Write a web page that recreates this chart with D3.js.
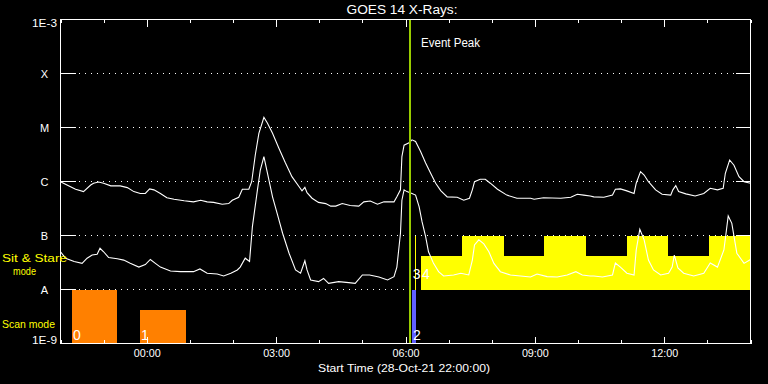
<!DOCTYPE html>
<html>
<head>
<meta charset="utf-8">
<script src="https://cdn.jsdelivr.net/npm/d3@7"></script>
<style>
  body { margin: 0; background: #000; }
  svg { display: block; background: #000; }
  text { font-family: "Liberation Sans", Arial, sans-serif; fill: #fff; }
</style>
</head>
<body>
<div id="chart"></div>
<script>
/* Data */
// start of the plot window, times below are minutes after it
const startTime = new Date(Date.UTC(2021, 9, 28, 22, 0, 0));
const spanMinutes = 960;
const eventPeakMin = 486;

// GOES long channel (1-8 A)
const longMin = [0, 9, 21, 32, 42, 46, 53, 60, 70, 83, 93, 102, 111, 118, 124, 130, 139, 148, 158, 172,
  185, 195, 204, 213, 225, 234, 239, 248, 253, 262, 266, 271, 276, 283, 288, 295, 304, 313, 322, 332,
  336, 340, 343, 350, 359, 369, 376, 383, 392, 403, 415, 422, 431, 441, 450, 464, 468, 473, 475, 478,
  485, 489, 494, 501, 508, 515, 522, 529, 538, 552, 561, 569, 573, 576, 584, 591, 598, 608, 621, 635,
  654, 659, 672, 696, 710, 719, 728, 737, 742, 756, 768, 772, 779, 788, 798, 801, 807, 812, 818, 828,
  837, 849, 852, 856, 860, 870, 883, 895, 904, 914, 922, 925, 931, 937, 944, 951, 960];
const longFlux = [9.9e-7, 8.6e-7, 7.2e-7, 6.5e-7, 8.6e-7, 9.3e-7, 9.8e-7, 9.3e-7, 8.3e-7, 8.3e-7,
  7.7e-7, 6.5e-7, 6.0e-7, 6.0e-7, 7.3e-7, 7.0e-7, 6.0e-7, 5.0e-7, 4.7e-7, 4.4e-7,
  4.2e-7, 4.5e-7, 4.2e-7, 4.1e-7, 3.8e-7, 3.9e-7, 4.5e-7, 5.1e-7, 7.2e-7, 7.2e-7,
  9.9e-7, 3.1e-6, 7.8e-6, 1.55e-5, 1.2e-5, 7.8e-6, 4.1e-6, 2.2e-6, 1.23e-6, 8.0e-7,
  6.7e-7, 7.8e-7, 6.2e-7, 4.9e-7, 4.1e-7, 3.9e-7, 3.5e-7, 3.5e-7, 3.9e-7, 3.6e-7,
  3.5e-7, 4.2e-7, 4.35e-7, 3.8e-7, 4.2e-7, 4.2e-7, 5.2e-7, 7.0e-7, 2.9e-6, 4.7e-6,
  5.2e-6, 5.9e-6, 5.5e-6, 3.6e-6, 2.2e-6, 1.42e-6, 9.3e-7, 6.8e-7, 5.2e-7, 5.1e-7,
  4.5e-7, 4.9e-7, 7.0e-7, 9.9e-7, 1.1e-6, 1.1e-6, 9.3e-7, 7.2e-7, 5.6e-7, 4.9e-7,
  4.9e-7, 4.7e-7, 5.0e-7, 4.9e-7, 5.1e-7, 5.8e-7, 5.6e-7, 5.4e-7, 5.2e-7, 5.1e-7,
  5.6e-7, 7.2e-7, 7.3e-7, 6.7e-7, 6.0e-7, 9.3e-7, 1.52e-6, 1.32e-6, 9.9e-7, 7.0e-7,
  5.8e-7, 5.6e-7, 7.0e-7, 8.4e-7, 6.5e-7, 5.9e-7, 5.4e-7, 6.0e-7, 7.5e-7, 7.0e-7,
  7.5e-7, 1.42e-6, 2.5e-6, 2.0e-6, 1.23e-6, 9.9e-7, 9.3e-7];

// GOES short channel (0.5-4 A)
const shortMin = [0, 7, 19, 30, 37, 44, 51, 55, 60, 67, 79, 88, 97, 109, 118, 125, 132, 139, 153, 167,
  185, 194, 204, 218, 227, 237, 246, 250, 257, 263, 267, 274, 278, 283, 288, 295, 302, 309, 318, 327,
  334, 340, 343, 348, 359, 366, 373, 387, 401, 410, 420, 430, 443, 455, 464, 468, 473, 475, 478, 482,
  489, 494, 499, 503, 508, 512, 519, 526, 533, 547, 557, 568, 573, 576, 582, 589, 596, 603, 612, 626,
  640, 654, 663, 677, 691, 705, 717, 726, 737, 742, 754, 768, 772, 779, 788, 798, 801, 806, 812, 818,
  825, 835, 846, 851, 854, 859, 867, 881, 895, 904, 914, 923, 929, 934, 941, 951, 960];
const shortFlux = [5.0e-8, 3.8e-8, 3.3e-8, 3.05e-8, 3.8e-8, 4.35e-8, 4.5e-8, 5.8e-8, 5.0e-8, 3.9e-8,
  3.7e-8, 3.5e-8, 3.05e-8, 2.6e-8, 2.9e-8, 3.6e-8, 3.05e-8, 2.6e-8, 2.2e-8, 2.14e-8,
  2.14e-8, 2.4e-8, 2.0e-8, 1.94e-8, 1.78e-8, 2.0e-8, 2.3e-8, 2.6e-8, 3.8e-8, 3.3e-8,
  1.46e-7, 7.0e-7, 1.63e-6, 2.9e-6, 1.42e-6, 5.2e-7, 2.4e-7, 1.1e-7, 4.7e-8, 2.3e-8,
  2.0e-8, 3.4e-8, 2.3e-8, 1.5e-8, 1.4e-8, 1.6e-8, 1.3e-8, 1.4e-8, 1.34e-8, 1.3e-8,
  1.86e-8, 1.86e-8, 1.7e-8, 1.5e-8, 1.73e-8, 2.6e-8, 1.1e-7, 4.5e-7, 7.0e-7, 6.5e-7,
  6.0e-7, 5.6e-7, 3.4e-7, 1.8e-7, 9.5e-8, 5.0e-8, 3.05e-8, 2.14e-8, 1.78e-8, 1.86e-8,
  2.0e-8, 1.86e-8, 3.5e-8, 6.7e-8, 8.3e-8, 7.0e-8, 5.0e-8, 3.05e-8, 2.14e-8, 1.86e-8,
  1.78e-8, 1.7e-8, 1.94e-8, 1.73e-8, 1.7e-8, 1.86e-8, 2.14e-8, 1.86e-8, 1.78e-8, 1.78e-8,
  1.7e-8, 1.86e-8, 3.1e-8, 2.6e-8, 2.0e-8, 1.86e-8, 5.4e-8, 1.3e-7, 8.3e-8, 3.5e-8,
  2.3e-8, 1.86e-8, 2.0e-8, 2.6e-8, 4.35e-8, 2.5e-8, 2.0e-8, 1.78e-8, 2.0e-8, 3.1e-8,
  2.6e-8, 5.4e-8, 2.3e-7, 1.68e-7, 4.7e-8, 3.05e-8, 3.6e-8];

// observations (scan / sit & stare), minutes after start
const obsStart = [16, 110.6, 489, 493.2, 501.6, 558.6, 617, 672.7, 731.1, 788.2, 845.2, 902.3];
const obsEnd = [78.2, 174.2, 494.6, 494.6, 558.6, 617, 672.7, 731.1, 788.2, 845.2, 902.3, 960];
const obsMode = ["scan", "scan", "scan", "sit", "sit", "sit", "sit", "sit", "sit", "sit", "sit", "sit"];
const obsLevel = [1, 0.62, 1, 1, 0.62, 1, 0.62, 1, 0.62, 1, 0.62, 1];
const obsFlare = [false, false, true, false, false, false, false, false, false, false, false, false];
const obsLabel = ["0", "1", "2", "3", "4", "", "", "", "", "", "", ""];

// y axis levels
const levelValues = [1e-3, 1e-4, 1e-5, 1e-6, 1e-7, 1e-8, 1e-9];
const levelNames = ["1E-3", "X", "M", "C", "B", "A", "1E-9"];

/* Dimensions */
const width = 768;
const height = 384;
const margin = { top: 19.5, right: 17.5, bottom: 40.5, left: 60.5 };

const toDate = (m) => new Date(startTime.getTime() + m * 60000);

/* Scales */
const x = d3.scaleUtc()
  .domain([startTime, toDate(spanMinutes)])
  .range([margin.left, width - margin.right]);

const y = d3.scaleLog()
  .domain([1e-9, 1e-3])
  .range([height - margin.bottom, margin.top]);

// bands for the observation bars
const bandScale = {
  scan: d3.scaleLinear().domain([0, 1]).range([y(1e-9), y(1e-8)]),
  sit: d3.scaleLinear().domain([0, 1]).range([y(1e-8), y(1e-7)])
};
const obsColor = (i) => obsMode[i] === "sit" ? "#ffff00" : (obsFlare[i] ? "#6060ff" : "#ff8000");

/* SVG container */
const svg = d3
  .select("#chart")
  .append("svg")
  .attr("width", width)
  .attr("height", height);

svg.append("clipPath")
  .attr("id", "plotClip")
  .append("rect")
  .attr("x", margin.left)
  .attr("y", margin.top)
  .attr("width", x.range()[1] - x.range()[0])
  .attr("height", y.range()[0] - y.range()[1]);

// Gridlines: solid stubs at both sides, dotted between
const gridLevels = levelValues.slice(1, -1);
const grid = svg.append("g").attr("stroke", "#fff").attr("shape-rendering", "crispEdges");
grid.selectAll(".stubL")
  .data(gridLevels)
  .enter()
  .append("line")
  .attr("x1", margin.left).attr("x2", margin.left + 15)
  .attr("y1", (d) => y(d)).attr("y2", (d) => y(d));
grid.selectAll(".stubR")
  .data(gridLevels)
  .enter()
  .append("line")
  .attr("x1", x.range()[1] - 14.5).attr("x2", x.range()[1])
  .attr("y1", (d) => y(d)).attr("y2", (d) => y(d));
grid.selectAll(".dots")
  .data(gridLevels)
  .enter()
  .append("line")
  .attr("x1", 79).attr("x2", x.range()[1] - 15)
  .attr("y1", (d) => y(d)).attr("y2", (d) => y(d))
  .attr("stroke-dasharray", "1,5");

// Observation bars
const obs = d3.range(obsStart.length);
svg.append("g")
  .attr("shape-rendering", "crispEdges")
  .selectAll(".bar")
  .data(obs)
  .enter()
  .append("rect")
  .attr("class", "bar")
  .attr("x", (i) => x(toDate(obsStart[i])))
  .attr("width", (i) => x(toDate(obsEnd[i])) - x(toDate(obsStart[i])))
  .attr("y", (i) => bandScale[obsMode[i]](obsLevel[i]))
  .attr("height", (i) => bandScale[obsMode[i]](0) - bandScale[obsMode[i]](obsLevel[i]))
  .attr("fill", (i) => obsColor(i));

// Bar numbers; when the next bar follows right away, end the number at its start
const labelled = obs.filter((i) => obsLabel[i] !== "");
const nextStartX = (i) => {
  const next = labelled.find((j) => j > i && obsMode[j] === obsMode[i]);
  return next === undefined ? Infinity : x(toDate(obsStart[next]));
};
const crowded = (i) => nextStartX(i) - x(toDate(obsStart[i])) < 9;
svg.append("g")
  .selectAll(".barLabel")
  .data(labelled)
  .enter()
  .append("text")
  .attr("x", (i) => crowded(i) ? nextStartX(i) - 0.5 : x(toDate(obsStart[i])) + 1)
  .attr("text-anchor", (i) => crowded(i) ? "end" : "start")
  .attr("y", (i) => bandScale[obsMode[i]](0) - (obsMode[i] === "sit" ? 11 : 4))
  .style("font-size", "14px")
  .text((i) => obsLabel[i]);

// X-ray curves
const line = d3.line()
  .x((d) => x(toDate(d[0])))
  .y((d) => y(d[1]));

const curves = svg.append("g").attr("clip-path", "url(#plotClip)");
[[longMin, longFlux], [shortMin, shortFlux]].forEach(([t, f]) => {
  curves.append("path")
    .datum(t.map((m, i) => [m, f[i]]))
    .attr("fill", "none")
    .attr("stroke", "#fff")
    .attr("stroke-width", 1.1)
    .attr("d", line);
});

// Event peak marker
const peakX = Math.round(x(toDate(eventPeakMin)));
svg.append("line")
  .attr("x1", peakX).attr("x2", peakX)
  .attr("y1", y.range()[1]).attr("y2", y.range()[0])
  .attr("stroke", "#99cc00")
  .attr("stroke-width", 2);

svg.append("text")
  .attr("x", peakX + 11)
  .attr("y", 47)
  .attr("textLength", 59)
  .attr("lengthAdjust", "spacingAndGlyphs")
  .style("font-size", "12px")
  .text("Event Peak");

// Frame
svg.append("rect")
  .attr("x", x.range()[0])
  .attr("y", y.range()[1])
  .attr("width", x.range()[1] - x.range()[0])
  .attr("height", y.range()[0] - y.range()[1])
  .attr("fill", "none")
  .attr("stroke", "#fff")
  .attr("shape-rendering", "crispEdges");

/* Axes */
const tickAxes = [
  [d3.axisBottom, y.range()[1]],
  [d3.axisTop, y.range()[0]]
];
tickAxes.forEach(([axisFn, yPos]) => {
  [[d3.utcHour.every(1), 3.5], [d3.utcHour.every(3), 7]].forEach(([every, size]) => {
    const g = svg.append("g")
      .attr("transform", `translate(0,${yPos})`)
      .attr("shape-rendering", "crispEdges")
      .call(axisFn(x).ticks(every).tickSize(size).tickSizeOuter(0).tickFormat(""));
    g.select(".domain").remove();
    g.selectAll("line").attr("stroke", "#fff");
  });
});

// X tick labels
const xLabels = svg.append("g")
  .attr("transform", `translate(0,${y.range()[0]})`)
  .call(d3.axisBottom(x).ticks(d3.utcHour.every(3)).tickSize(0).tickPadding(6)
    .tickFormat(d3.utcFormat("%H:%M")));
xLabels.select(".domain").remove();
xLabels.selectAll("text")
  .attr("fill", "#fff")
  .attr("textLength", 27)
  .attr("lengthAdjust", "spacingAndGlyphs")
  .style("font-family", "'Liberation Sans', Arial, sans-serif")
  .style("font-size", "11px");

// X-label
svg.append("text")
  .attr("x", 404)
  .attr("y", 372)
  .attr("text-anchor", "middle")
  .attr("textLength", 172)
  .attr("lengthAdjust", "spacingAndGlyphs")
  .style("font-size", "11px")
  .text("Start Time (28-Oct-21 22:00:00)");

// Y tick labels
const yLabels = svg.append("g")
  .attr("transform", `translate(${margin.left},0)`)
  .call(d3.axisLeft(y).tickValues(levelValues).tickSize(0)
    .tickFormat((d, i) => levelNames[i]));
yLabels.select(".domain").remove();
yLabels.selectAll("text")
  .attr("fill", "#fff")
  .attr("x", -16)
  .attr("text-anchor", "middle")
  .attr("dy", (d, i) => i === 0 ? "0.66em" : (i === levelValues.length - 1 ? "0em" : "0.34em"))
  .style("font-family", "'Liberation Sans', Arial, sans-serif")
  .style("font-size", "11px");
yLabels.selectAll("text")
  .filter((d, i) => levelNames[i].length > 1)
  .attr("textLength", 25)
  .attr("lengthAdjust", "spacingAndGlyphs");

// Mode labels
const modeLabels = [["Sit & Stare", 2, 262, 65], ["mode", 13, 274.5, 23], ["Scan mode", 2, 328, 53]];
svg.append("g")
  .selectAll("text")
  .data(modeLabels)
  .enter()
  .append("text")
  .attr("x", (d) => d[1])
  .attr("y", (d) => d[2])
  .attr("textLength", (d) => d[3])
  .attr("lengthAdjust", "spacingAndGlyphs")
  .style("fill", "#ffff00")
  .style("font-size", "11px")
  .text((d) => d[0]);

// Title
svg.append("text")
  .attr("x", 402)
  .attr("y", 14)
  .attr("text-anchor", "middle")
  .attr("textLength", 111)
  .attr("lengthAdjust", "spacingAndGlyphs")
  .style("font-size", "12.5px")
  .text("GOES 14 X-Rays:");
</script>
</body>
</html>
